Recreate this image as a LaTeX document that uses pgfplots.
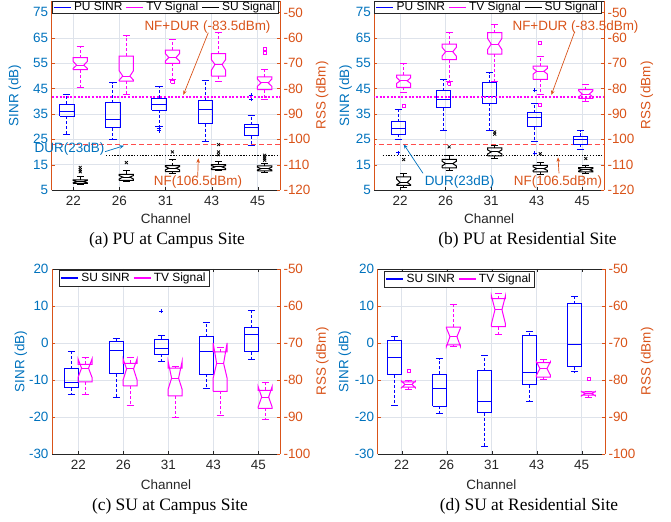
\documentclass[border=0pt]{standalone}
\usepackage{pgfplots}
\pgfplotsset{compat=1.18}
\usepackage{fontspec}
\setmainfont{Liberation Sans}
\newfontfamily\seriffont{Liberation Serif}
\usetikzlibrary{arrows.meta}
\definecolor{sinrc}{rgb}{0,0.447,0.741}
\definecolor{rssc}{rgb}{0.85,0.325,0.098}
\definecolor{axc}{rgb}{0.15,0.15,0.15}
\definecolor{gridc}{rgb}{0.87,0.89,0.92}
\definecolor{durred}{rgb}{1,0.3,0.3}
\definecolor{mg}{rgb}{1,0,1}
\definecolor{bl}{rgb}{0,0,1}
\definecolor{bk}{rgb}{0,0,0}
\newcommand\fs{\fontsize{13.5}{16}\selectfont}
\newcommand\lfs{\fontsize{12}{14}\selectfont}
\newcommand\cfs{\seriffont\fontsize{17.5}{20}\selectfont}
\def\hw{0.155}
\pgfplotsset{
  bx/.style={draw=#1, line width=1bp, solid, mark=none},
  wk/.style={draw=#1, line width=1bp, dash pattern=on 3bp off 2bp, mark=none},
  ol/.style={draw=#1, line width=0.8bp, solid, mark=none},
  panel/.style={scale only axis, /pgf/number format/assume math mode=true,
    tick align=inside, major tick length=3bp,
    tick label style={font=\fs}, label style={font=\fs},
    xtick={1,2,3,4,5}, xticklabels={22,26,31,43,45}, anchor=south west},
  leftax/.style={panel, axis x line=box, axis y line*=left, grid=major,
    grid style={draw=gridc, line width=0.5bp},
    x axis line style={draw=axc, line width=0.6bp},
    y axis line style={draw=rssc, line width=0.6bp},
    xtick style={draw=axc}, ytick style={draw=rssc},
    yticklabel style={text=sinrc}, ylabel style={text=sinrc, anchor=center, font=\fs},
    xticklabel style={anchor=center, yshift=-11bp, text=axc},
    xlabel style={text=axc, anchor=center, font=\fs},
    ylabel={SINR (dB)}, xlabel={Channel}},
  rightax/.style={panel, axis x line=none, axis y line*=right,
    y axis line style={draw=rssc, line width=0.6bp}, ytick style={draw=rssc},
    yticklabel style={text=rssc}, ylabel style={text=rssc, anchor=center, font=\fs},
    ylabel={RSS (dBm)}},
  legax/.style={scale only axis, anchor=south west, hide axis, xmin=0, xmax=1, ymin=0, ymax=1,
    legend image code/.code={\draw[##1, line width=1.6bp] (0bp,0bp) -- (17bp,0bp);},
    legend style={font=\lfs, draw=axc, line width=0.6bp, fill=white,
      inner xsep=1bp, inner ysep=0.5bp, nodes={inner xsep=2.4bp, inner ysep=0.5bp},
      /tikz/every even column/.append style={column sep=0.5bp}},
    legend cell align=left},
  durline/.style={draw=durred, line width=1.5bp, dash pattern=on 5bp off 3bp},
  magdot/.style={draw=mg, line width=1.8bp, dash pattern=on 2bp off 1.6bp},
  blkdot/.style={draw=bk, line width=1.1bp, dash pattern=on 1.3bp off 1.5bp},
}
% notched box: color, x, lower whisker, q1, notch low, median, notch high, q3, upper whisker
\newcommand\nbox[9]{%
  \pgfmathsetmacro\bxl{#2-\hw}\pgfmathsetmacro\bxr{#2+\hw}%
  \pgfmathsetmacro\bml{#2-\hw/2}\pgfmathsetmacro\bmr{#2+\hw/2}%
  \edef\bxtmp{%
    \noexpand\addplot[bx=#1, forget plot] coordinates {(\bxl,#4)(\bxr,#4)(\bxr,#5)(\bmr,#6)(\bxr,#7)(\bxr,#8)(\bxl,#8)(\bxl,#7)(\bml,#6)(\bxl,#5)(\bxl,#4)};
    \noexpand\addplot[bx=#1, forget plot] coordinates {(\bml,#6)(\bmr,#6)};
    \noexpand\addplot[wk=#1, forget plot] coordinates {(#2,#8)(#2,#9)};
    \noexpand\addplot[wk=#1, forget plot] coordinates {(#2,#4)(#2,#3)};
    \noexpand\addplot[bx=#1, forget plot] coordinates {(\bml,#9)(\bmr,#9)};
    \noexpand\addplot[bx=#1, forget plot] coordinates {(\bml,#3)(\bmr,#3)};
  }\bxtmp}
% plain box: color, x, lower whisker, q1, median, q3, upper whisker
\newcommand\pbox[7]{%
  \pgfmathsetmacro\bxl{#2-\hw}\pgfmathsetmacro\bxr{#2+\hw}%
  \pgfmathsetmacro\bml{#2-\hw/2}\pgfmathsetmacro\bmr{#2+\hw/2}%
  \edef\bxtmp{%
    \noexpand\addplot[bx=#1, forget plot] coordinates {(\bxl,#4)(\bxr,#4)(\bxr,#6)(\bxl,#6)(\bxl,#4)};
    \noexpand\addplot[bx=#1, forget plot] coordinates {(\bxl,#5)(\bxr,#5)};
    \noexpand\addplot[wk=#1, forget plot] coordinates {(#2,#6)(#2,#7)};
    \noexpand\addplot[wk=#1, forget plot] coordinates {(#2,#4)(#2,#3)};
    \noexpand\addplot[bx=#1, forget plot] coordinates {(\bml,#7)(\bmr,#7)};
    \noexpand\addplot[bx=#1, forget plot] coordinates {(\bml,#3)(\bmr,#3)};
  }\bxtmp}
% outliers drawn as small line glyphs at the data point: color, x, y ; half sizes \odx, \ody
\newcommand\opls[3]{%
  \pgfmathsetmacro\oxa{#2-\odx}\pgfmathsetmacro\oxb{#2+\odx}%
  \pgfmathsetmacro\oya{#3-\ody}\pgfmathsetmacro\oyb{#3+\ody}%
  \edef\otmp{%
    \noexpand\addplot[ol=#1, forget plot] coordinates {(\oxa,#3)(\oxb,#3)};
    \noexpand\addplot[ol=#1, forget plot] coordinates {(#2,\oya)(#2,\oyb)};
  }\otmp}
\newcommand\osq[3]{%
  \pgfmathsetmacro\oxa{#2-0.75*\odx}\pgfmathsetmacro\oxb{#2+0.75*\odx}%
  \pgfmathsetmacro\oya{#3-0.75*\ody}\pgfmathsetmacro\oyb{#3+0.75*\ody}%
  \edef\otmp{%
    \noexpand\addplot[ol=#1, forget plot] coordinates {(\oxa,\oya)(\oxb,\oya)(\oxb,\oyb)(\oxa,\oyb)(\oxa,\oya)};
  }\otmp}
\newcommand\ocr[3]{%
  \pgfmathsetmacro\oxa{#2-0.7*\odx}\pgfmathsetmacro\oxb{#2+0.7*\odx}%
  \pgfmathsetmacro\oya{#3-0.7*\ody}\pgfmathsetmacro\oyb{#3+0.7*\ody}%
  \edef\otmp{%
    \noexpand\addplot[ol=#1, forget plot] coordinates {(\oxa,\oya)(\oxb,\oyb)};
    \noexpand\addplot[ol=#1, forget plot] coordinates {(\oxa,\oyb)(\oxb,\oya)};
  }\otmp}
\begin{document}
\begin{tikzpicture}[x=1bp,y=1bp]
\path[use as bounding box] (0,0) rectangle (671,522);
%================ (a)
\def\odx{0.045}\def\ody{0.8}
\begin{axis}[leftax, at={(51.7bp,332bp)}, width=228.3bp, height=189bp,
  xmin=0.531, xmax=5.484, ymin=5, ymax=79.5, ytick={5,15,25,35,45,55,65,75},
  ylabel style={at={(axis description cs:-0.161,0.5)}},
  xlabel style={at={(axis description cs:0.5,-0.152)}}]
\addplot[durline, forget plot] coordinates {(0,23)(6,23)};
\pbox{bl}{0.86}{27.0}{34.0}{36.1}{38.8}{42.8}
\pbox{bl}{1.86}{24.9}{29.5}{32.9}{39.3}{47.2}
\pbox{bl}{2.86}{30.1}{36.4}{38.7}{41.1}{45.9}
\pbox{bl}{3.86}{24.3}{31.2}{36.7}{40.4}{48.3}
\pbox{bl}{4.86}{22.4}{26.3}{29.5}{30.8}{34.2}
\opls{bl}{2.86}{29.3}\opls{bl}{2.86}{28.3}\opls{bl}{4.86}{42.4}\opls{bl}{4.86}{40.7}
% NF+DUR = -83.5 dBm and NF = -106.5 dBm, on the SINR scale (RSS + 125)
\addplot[magdot, forget plot] coordinates {(0,41.5)(6,41.5)};
\addplot[blkdot, forget plot] coordinates {(1.71,18.5)(6,18.5)};
\end{axis}
\begin{axis}[rightax, at={(51.7bp,332bp)}, width=228.3bp, height=189bp,
  xmin=0.531, xmax=5.484, ymin=-120, ymax=-45.5, ytick={-120,-110,-100,-90,-80,-70,-60,-50},
  ylabel style={at={(axis description cs:1.185,0.5)}}]
\nbox{mg}{1.15}{-79.6}{-72.6}{-72.1}{-70.8}{-69.3}{-67.8}{-63.6}
\nbox{mg}{2.15}{-82.2}{-77.1}{-76.7}{-75.1}{-73.0}{-67.2}{-59.3}
\nbox{mg}{3.15}{-76.3}{-70.1}{-69.2}{-67.8}{-66.2}{-64.9}{-60.6}
\nbox{mg}{4.15}{-77.4}{-75.1}{-72.8}{-70.5}{-68.6}{-66.2}{-57.9}
\nbox{mg}{5.15}{-84.2}{-80.4}{-79.1}{-77.8}{-76.3}{-75.4}{-72.5}
\osq{mg}{3.15}{-77.3}\osq{mg}{5.15}{-64.2}\osq{mg}{5.15}{-65.9}
\nbox{bk}{1.15}{-118.0}{-117.4}{-117.2}{-116.7}{-116.2}{-116.0}{-114.5}
\nbox{bk}{2.15}{-116.8}{-116.2}{-115.7}{-114.9}{-114.3}{-113.8}{-112.2}
\nbox{bk}{3.15}{-113.4}{-112.8}{-112.1}{-111.4}{-110.8}{-110.4}{-107.9}
\nbox{bk}{4.15}{-112.5}{-112.0}{-111.5}{-110.9}{-110.4}{-110.0}{-108.7}
\nbox{bk}{5.15}{-113.3}{-112.5}{-112.1}{-111.6}{-111.0}{-110.5}{-109.6}
\ocr{bk}{1.15}{-111.1}\ocr{bk}{1.15}{-112.0}\ocr{bk}{1.15}{-112.8}\ocr{bk}{2.15}{-109.2}
\ocr{bk}{3.15}{-105.0}\ocr{bk}{4.15}{-102.1}\ocr{bk}{4.15}{-105.0}\ocr{bk}{4.15}{-106.1}
\ocr{bk}{5.15}{-106.3}\ocr{bk}{5.15}{-107.0}\ocr{bk}{5.15}{-107.7}\ocr{bk}{5.15}{-108.3}
\end{axis}
\begin{axis}[legax, at={(51.7bp,332bp)}, width=228.3bp, height=189bp,
  legend columns=3, legend style={at={(0,1)}, anchor=north west}]
\addlegendimage{draw=bl}\addlegendentry{PU SINR}
\addlegendimage{draw=mg}\addlegendentry{TV Signal}
\addlegendimage{draw=bk}\addlegendentry{SU Signal}
\end{axis}
%================ (b)
\begin{axis}[leftax, at={(374.3bp,332bp)}, width=229.7bp, height=189bp,
  xmin=0.435, xmax=5.48, ymin=5, ymax=79.5, ytick={5,15,25,35,45,55,65,75},
  ylabel style={at={(axis description cs:-0.125,0.5)}},
  xlabel style={at={(axis description cs:0.5,-0.152)}}]
\addplot[durline, forget plot] coordinates {(0,23)(6,23)};
\pbox{bl}{0.96}{24.9}{27.0}{29.2}{31.8}{36.7}
\pbox{bl}{1.96}{28.6}{37.5}{40.7}{44.1}{48.7}
\pbox{bl}{2.96}{28.6}{39.1}{41.7}{47.2}{51.2}
\pbox{bl}{3.96}{24.2}{29.9}{33.4}{35.4}{39.1}
\pbox{bl}{4.96}{21.1}{23.0}{24.9}{26.2}{28.3}
\opls{bl}{0.96}{19.7}\opls{bl}{3.96}{44.3}\opls{bl}{3.96}{19.6}
\addplot[magdot, forget plot] coordinates {(0,41.5)(6,41.5)};
\addplot[blkdot, forget plot] coordinates {(0.62,18.5)(6,18.5)};
\end{axis}
\begin{axis}[rightax, at={(374.3bp,332bp)}, width=229.7bp, height=189bp,
  xmin=0.435, xmax=5.48, ymin=-120, ymax=-45.5, ytick={-120,-110,-100,-90,-80,-70,-60,-50},
  ylabel style={at={(axis description cs:1.187,0.5)}}]
\nbox{mg}{1.08}{-81.6}{-79.6}{-78.0}{-77.0}{-75.7}{-74.7}{-70.1}
\nbox{mg}{2.08}{-77.1}{-68.6}{-67.2}{-65.5}{-63.8}{-62.5}{-57.9}
\nbox{mg}{3.08}{-77.1}{-66.4}{-64.6}{-62.5}{-60.3}{-58.0}{-54.6}
\nbox{mg}{4.08}{-82.4}{-76.4}{-74.3}{-73.2}{-72.1}{-71.2}{-67.5}
\nbox{mg}{5.08}{-85.3}{-83.9}{-83.3}{-82.2}{-80.9}{-80.4}{-78.3}
\osq{mg}{1.08}{-86.8}\osq{mg}{2.08}{-78.2}\osq{mg}{4.08}{-62.2}\osq{mg}{4.08}{-86.5}
\nbox{bk}{1.08}{-119.0}{-118.2}{-118.0}{-117.0}{-115.7}{-114.8}{-113.5}
\nbox{bk}{2.08}{-112.5}{-111.3}{-110.5}{-109.6}{-108.7}{-107.9}{-106.6}
\nbox{bk}{3.08}{-107.6}{-106.6}{-105.8}{-105.0}{-104.2}{-103.4}{-102.4}
\nbox{bk}{4.08}{-113.8}{-112.9}{-112.3}{-111.6}{-110.9}{-110.3}{-109.3}
\nbox{bk}{5.08}{-113.6}{-112.9}{-112.5}{-112.0}{-111.6}{-111.2}{-110.3}
\ocr{bk}{1.08}{-108.0}\ocr{bk}{2.08}{-103.0}\ocr{bk}{3.08}{-97.1}\ocr{bk}{3.08}{-98.0}
\ocr{bk}{4.08}{-105.7}\ocr{bk}{5.08}{-107.6}
\end{axis}
\begin{axis}[legax, at={(374.3bp,332bp)}, width=229.7bp, height=189bp,
  legend columns=3, legend style={at={(0,1)}, anchor=north west}]
\addlegendimage{draw=bl}\addlegendentry{PU SINR}
\addlegendimage{draw=mg}\addlegendentry{TV Signal}
\addlegendimage{draw=bk}\addlegendentry{SU Signal}
\end{axis}
%================ (c)
\def\odx{0.045}\def\ody{0.55}
\begin{axis}[leftax, at={(52bp,68bp)}, width=228bp, height=185bp,
  xmin=0.416, xmax=5.48, ymin=-30, ymax=20, ytick={-30,-20,-10,0,10,20},
  ylabel style={at={(axis description cs:-0.136,0.5)}},
  xlabel style={at={(axis description cs:0.5,-0.164)}}]
\pbox{bl}{0.845}{-13.9}{-12.1}{-10.8}{-7.0}{-2.4}
\pbox{bl}{1.845}{-14.6}{-8.3}{-2.0}{0.3}{1.2}
\pbox{bl}{2.845}{-5.1}{-3.1}{-1.4}{1.0}{1.9}
\pbox{bl}{3.845}{-12.2}{-8.5}{-2.4}{1.7}{5.5}
\pbox{bl}{4.845}{-4.4}{-2.3}{2.3}{4.1}{8.8}
\opls{bl}{2.845}{8.6}
\end{axis}
\begin{axis}[rightax, at={(52bp,68bp)}, width=228bp, height=185bp,
  xmin=0.416, xmax=5.48, ymin=-100, ymax=-50, ytick={-100,-90,-80,-70,-60,-50},
  ylabel style={at={(axis description cs:1.186,0.5)}}]
\nbox{mg}{1.15}{-84.0}{-80.5}{-79.3}{-76.8}{-74.3}{-75.8}{-74.0}
\nbox{mg}{2.15}{-86.8}{-81.6}{-80.0}{-77.0}{-74.3}{-75.5}{-73.8}
\nbox{mg}{3.15}{-90.2}{-84.3}{-82.5}{-79.5}{-75.0}{-76.8}{-76.3}
\nbox{mg}{4.15}{-89.7}{-83.1}{-79.5}{-75.5}{-70.0}{-72.4}{-71.2}
\nbox{mg}{5.15}{-90.6}{-87.7}{-87.3}{-84.6}{-81.8}{-82.8}{-80.7}
\end{axis}
\begin{axis}[legax, at={(52bp,68bp)}, width=228bp, height=185bp,
  legend columns=2, legend style={at={(0.031,0.995)}, anchor=north west, inner ysep=2.5bp}]
\addlegendimage{draw=bl}\addlegendentry{SU SINR}
\addlegendimage{draw=mg}\addlegendentry{TV Signal}
\end{axis}
%================ (d)
\begin{axis}[leftax, at={(377.7bp,68bp)}, width=227.3bp, height=185bp,
  xmin=0.467, xmax=5.518, ymin=-30, ymax=20, ytick={-30,-20,-10,0,10,20},
  ylabel style={at={(axis description cs:-0.144,0.5)}},
  xlabel style={at={(axis description cs:0.5,-0.164)}}]
\pbox{bl}{0.845}{-16.8}{-8.6}{-3.8}{0.8}{1.8}
\pbox{bl}{1.845}{-19.1}{-17.1}{-12.2}{-8.5}{-4.2}
\pbox{bl}{2.845}{-28.1}{-18.8}{-15.9}{-7.5}{-3.3}
\pbox{bl}{3.845}{-15.8}{-11.3}{-8.0}{1.9}{3.2}
\pbox{bl}{4.845}{-7.8}{-6.4}{-0.5}{10.6}{12.6}
\end{axis}
\begin{axis}[rightax, at={(377.7bp,68bp)}, width=227.3bp, height=185bp,
  xmin=0.467, xmax=5.518, ymin=-100, ymax=-50, ytick={-100,-90,-80,-70,-60,-50},
  ylabel style={at={(axis description cs:1.185,0.5)}}]
\nbox{mg}{1.15}{-82.7}{-81.9}{-82.1}{-81.2}{-80.3}{-80.5}{-80.2}
\nbox{mg}{2.15}{-71.0}{-70.5}{-70.9}{-68.3}{-66.0}{-65.7}{-59.7}
\nbox{mg}{3.15}{-67.6}{-65.6}{-64.8}{-61.0}{-57.3}{-58.0}{-56.7}
\nbox{mg}{4.15}{-79.9}{-79.2}{-78.7}{-76.9}{-75.1}{-75.3}{-74.4}
\nbox{mg}{5.15}{-84.6}{-84.1}{-84.3}{-83.7}{-83.1}{-83.2}{-83.0}
\osq{mg}{1.15}{-77.6}\osq{mg}{5.15}{-79.6}
\end{axis}
\begin{axis}[legax, at={(377.7bp,68bp)}, width=227.3bp, height=185bp,
  legend columns=2, legend style={at={(0.029,0.99)}, anchor=north west, inner ysep=2.5bp}]
\addlegendimage{draw=bl}\addlegendentry{SU SINR}
\addlegendimage{draw=mg}\addlegendentry{TV Signal}
\end{axis}
%================ annotations
\tikzset{ann/.style={-{Stealth[length=4.5bp,width=3.5bp]}, line width=0.7bp}}
\node[font=\fs, text=rssc, inner sep=0] at (207.5,495.3) {NF+DUR (-83.5dBm)};
\draw[ann, draw=rssc] (208.3,489.3) -- (183.3,427);
\node[font=\fs, text=rssc, inner sep=0] at (198,339.5) {NF(106.5dBm)};
\draw[ann, draw=rssc] (197.7,345.3) -- (198.3,363.7);
\node[font=\fs, text=sinrc, inner sep=0] at (69.5,372.5) {DUR(23dB)};
\draw[ann, draw=sinrc] (105,370.3) -- (124,376.3);
\node[font=\fs, text=rssc, inner sep=0] at (575.5,495.3) {NF+DUR (-83.5dBm)};
\draw[ann, draw=rssc] (574.7,490.3) -- (551.3,427);
\node[font=\fs, text=rssc, inner sep=0] at (558,339.5) {NF(106.5dBm)};
\draw[ann, draw=rssc] (559,348.7) -- (558,364.7);
\node[font=\fs, text=sinrc, inner sep=0] at (459.5,339.5) {DUR(23dB)};
\draw[ann, draw=sinrc] (423,348.7) -- (403.7,377.7);
%================ captions
\node[font=\cfs] at (167,282) {(a) PU at Campus Site};
\node[font=\cfs] at (527.5,282) {(b) PU at Residential Site};
\node[font=\cfs] at (170,16) {(c) SU at Campus Site};
\node[font=\cfs] at (529,16) {(d) SU at Residential Site};
\end{tikzpicture}
\end{document}
